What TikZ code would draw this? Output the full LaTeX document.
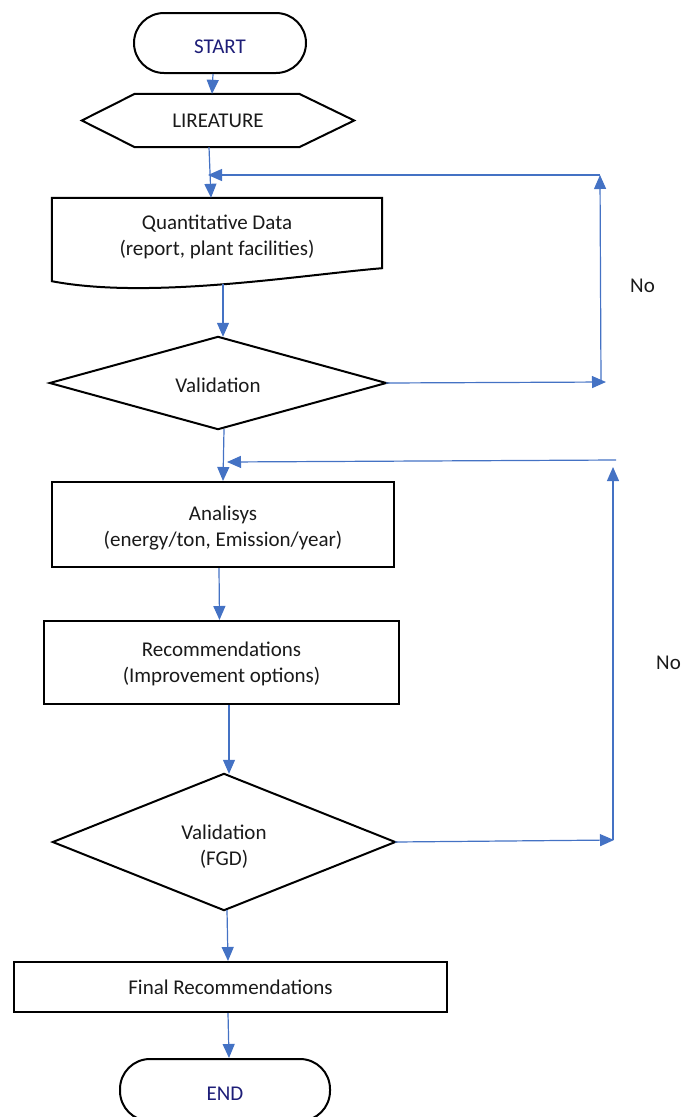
\documentclass[tikz,border=0pt]{standalone}
\usepackage{fontspec}
\setmainfont{Carlito}
\usetikzlibrary{arrows.meta,calc}
\definecolor{arrowblue}{RGB}{68,114,196}
\definecolor{navytext}{RGB}{30,30,120}
\definecolor{bodytext}{RGB}{26,26,26}
\newcommand\lowerby[2]{\raisebox{-#1}[\height][\depth]{#2}}
\newcommand\twolines[2]{\begin{tabular}{@{}c@{}}#1\\#2\end{tabular}}
\tikzset{
  shapeline/.style={draw=black,line width=2pt,line join=miter},
  boxnode/.style={shapeline,rectangle,inner sep=0pt,align=center,text=bodytext,font=\fontsize{21}{26}\selectfont},
  termnode/.style={shapeline,rectangle,rounded corners=30pt,inner sep=0pt,text=navytext,font=\fontsize{21}{26}\selectfont},
  bare/.style={draw=none,rectangle,inner sep=0pt,align=center,text=bodytext,font=\fontsize{21}{26}\selectfont},
  arr/.style={draw=arrowblue,line width=1.2pt,-{Triangle[length=14pt,width=12pt]}},
  lbl/.style={inner sep=0pt,text=bodytext,font=\fontsize{21}{26}\selectfont}
}
\begin{document}
\begin{tikzpicture}[x=1pt,y=-1pt]
\useasboundingbox (0,0) rectangle (681,1117);
% nodes
\node[termnode,minimum width=172pt,minimum height=60pt] (start) at (220,43) {\lowerby{4pt}{START}};
\node[bare,minimum width=272pt,minimum height=53pt] (lit) at (218,120.5) {LIREATURE};
\node[bare,minimum width=330pt,minimum height=78pt] (quant) at (217,237) {Quantitative Data\\(report, plant facilities)};
\node[bare,minimum width=336pt,minimum height=92pt] (val1) at (218,383) {\lowerby{2pt}{Validation}};
\node[boxnode,minimum width=342pt,minimum height=85pt] (ana) at (223,524.5) {\lowerby{4pt}{\twolines{Analisys}{(energy/ton, Emission/year)}}};
\node[boxnode,minimum width=355pt,minimum height=83pt] (rec) at (221.5,662.5) {\lowerby{2pt}{\twolines{Recommendations}{(Improvement options)}}};
\node[bare,minimum width=342pt,minimum height=136pt] (val2) at (224,842) {\lowerby{5pt}{\twolines{Validation}{(FGD)}}};
\node[boxnode,minimum width=433pt,minimum height=50pt] (fin) at (230.5,987) {Final Recommendations};
\node[termnode,minimum width=210pt,minimum height=62pt] (endn) at (225,1090) {\lowerby{4pt}{END}};
% outlines of custom shapes
\draw[shapeline] (lit.west) -- ($(lit.north west)+(53,0)$) -- ($(lit.north east)+(-55,0)$) -- (lit.east) -- ($(lit.south east)+(-55,0)$) -- ($(lit.south west)+(53,0)$) -- cycle;
\draw[shapeline] ($(quant.south west)+(0,5)$) -- (quant.north west) -- (quant.north east) -- ($(quant.south east)+(0,-8)$)
  .. controls (300,275) and (150,300) .. ($(quant.south west)+(0,5)$) -- cycle;
\draw[shapeline] (val1.west) -- (val1.north) -- (val1.east) -- (val1.south) -- cycle;
\draw[shapeline] (val2.west) -- (val2.north) -- (val2.east) -- (val2.south) -- cycle;
% coordinates
\coordinate (qb) at (223,284);
\coordinate (c1b) at (606,382);
\coordinate (c1bs) at (601,382);
\coordinate (c1t) at (600,175);
\coordinate (c1m) at (208,175);
\coordinate (c2b) at (614,840);
\coordinate (c2bs) at (613,840);
\coordinate (c2t) at (613,467);
\coordinate (c2r) at (616,460);
\coordinate (c2m) at (227,462);
% main flow
\draw[arr] ([xshift=-7pt]start.south) -- ([xshift=-6pt]lit.north);
\draw[arr] ([xshift=-9pt]lit.south) -- ([xshift=-6pt]quant.north);
\draw[arr] (qb) -- (qb |- val1.north);
\draw[arr] ([xshift=6pt]val1.south) -- (ana.north);
\draw[arr] ([xshift=-4pt]ana.south) -- ([xshift=-2pt]rec.north);
\draw[arr] ([xshift=7.5pt]rec.south) -- ([xshift=5pt]val2.north);
\draw[arr] ([xshift=3pt]val2.south) -- ([xshift=-2.5pt]fin.north);
\draw[arr] ([xshift=-2.5pt]fin.south) -- ([xshift=4pt]endn.north);
% feedback loop 1
\draw[arr] (val1.east) -- (c1b);
\draw[arr] (c1bs) -- (c1t);
\draw[arr] (c1t) -- (c1m);
% feedback loop 2
\draw[arr] (val2.east) -- (c2b);
\draw[arr] (c2bs) -- (c2t);
\draw[arr] (c2r) -- (c2m);
% labels
\node[lbl,anchor=west] (no1) at (630,286) {No};
\node[lbl,anchor=west] (no2) at (656,663) {No};
\end{tikzpicture}
\end{document}
